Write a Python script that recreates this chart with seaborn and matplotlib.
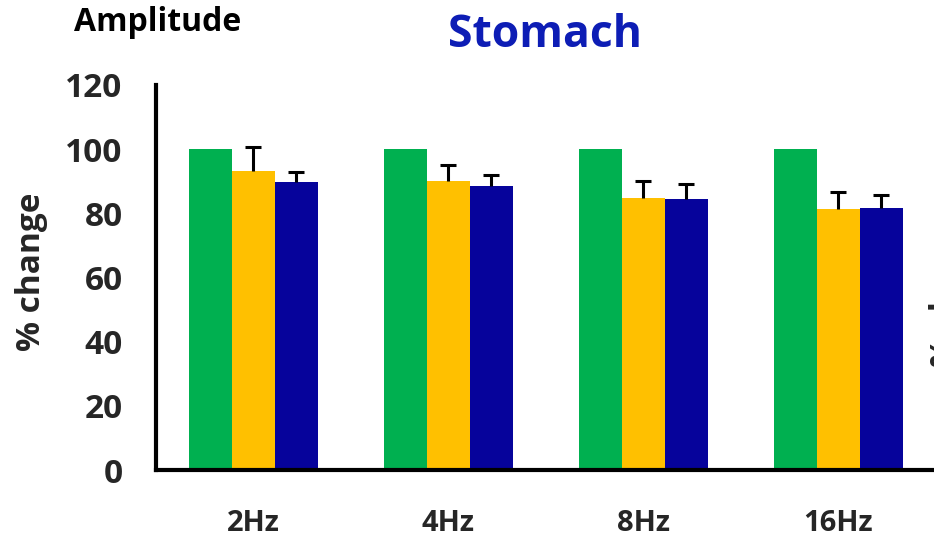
import matplotlib
matplotlib.use("Agg")
import matplotlib.pyplot as plt
import seaborn as sns
import pandas as pd
import numpy as np

# Amplitude, stomach: % change per stimulation frequency
categories = ["2Hz", "4Hz", "8Hz", "16Hz"]
groups = ["Baseline", "Condition A", "Condition B"]
baseline = [100, 100, 100, 100]
cond_a = [93.2, 90.1, 84.8, 81.3]
cond_b = [89.8, 88.4, 84.4, 81.6]
err_a = [7.5, 5.0, 5.3, 5.5]
err_b = [3.1, 3.6, 4.8, 4.1]
y_ticks = [0, 20, 40, 60, 80, 100, 120]

palette = ["#00B050", "#FFC000", "#06039B"]

sns.set_theme(style="white")
plt.rcParams["font.family"] = ["Open Sans", "DejaVu Sans"]

df = pd.DataFrame({
    "freq": categories * 3,
    "group": [groups[0]] * 4 + [groups[1]] * 4 + [groups[2]] * 4,
    "value": baseline + cond_a + cond_b,
})

fig = plt.figure(figsize=(9.34, 5.41), dpi=100)
ax = fig.add_axes([0.167, 0.131, 0.835, 0.712])

width = 0.66
sns.barplot(data=df, x="freq", y="value", hue="group", order=categories,
            hue_order=groups, palette=palette, width=width, errorbar=None,
            saturation=1, ax=ax, legend=False, linewidth=0)

# upper-only error bars on the two treated groups
bw = width / 3
x = np.arange(len(categories))
for offset, vals, errs in [(0.0, cond_a, err_a), (bw, cond_b, err_b)]:
    _, caps, _ = ax.errorbar(x + offset, vals,
                             yerr=[np.zeros(len(errs)), errs], fmt="none",
                             ecolor="black", elinewidth=2.2, capsize=6,
                             capthick=2.2, zorder=3)
    caps[0].set_visible(False)

ax.set_xlim(-0.5, 3.5)
ax.set_ylim(0, 120)
ax.set_yticks(y_ticks)
ax.set_yticklabels([str(t) for t in y_ticks], fontsize=24, fontweight="bold")
ax.set_xticks(x)
ax.set_xticklabels(categories, fontsize=21, fontweight="bold")
ax.set_xticks(np.arange(-0.5, 4.0, 1.0), minor=True)
ax.tick_params(axis="x", which="major", length=0, pad=28)
ax.tick_params(axis="x", which="minor", length=12, width=3, direction="out")
ax.tick_params(axis="y", length=10, width=3, direction="out", pad=14)

for side in ["top", "right"]:
    ax.spines[side].set_visible(False)
for side in ["left", "bottom"]:
    ax.spines[side].set_linewidth(3)
    ax.spines[side].set_color("black")

ax.set_xlabel("")
ax.set_ylabel("")
fig.text(31 / 934, 1 - 272 / 541, "% change", rotation=90, ha="center",
         va="center", fontsize=24, fontweight="bold")

fig.text(0.583, 0.935, "Stomach", ha="center", va="center", fontsize=32,
         fontweight="bold", color="#0D1DB5")
fig.text(0.169, 0.959, "Amplitude", ha="center", va="center", fontsize=23,
         fontweight="bold", color="black")

# edge of the neighbouring panel's axis label
fig.text(0.9942, 0.468, "% change", rotation=90, ha="left", va="center",
         fontsize=24, fontweight="bold")

fig.savefig("out.png", dpi=100)
